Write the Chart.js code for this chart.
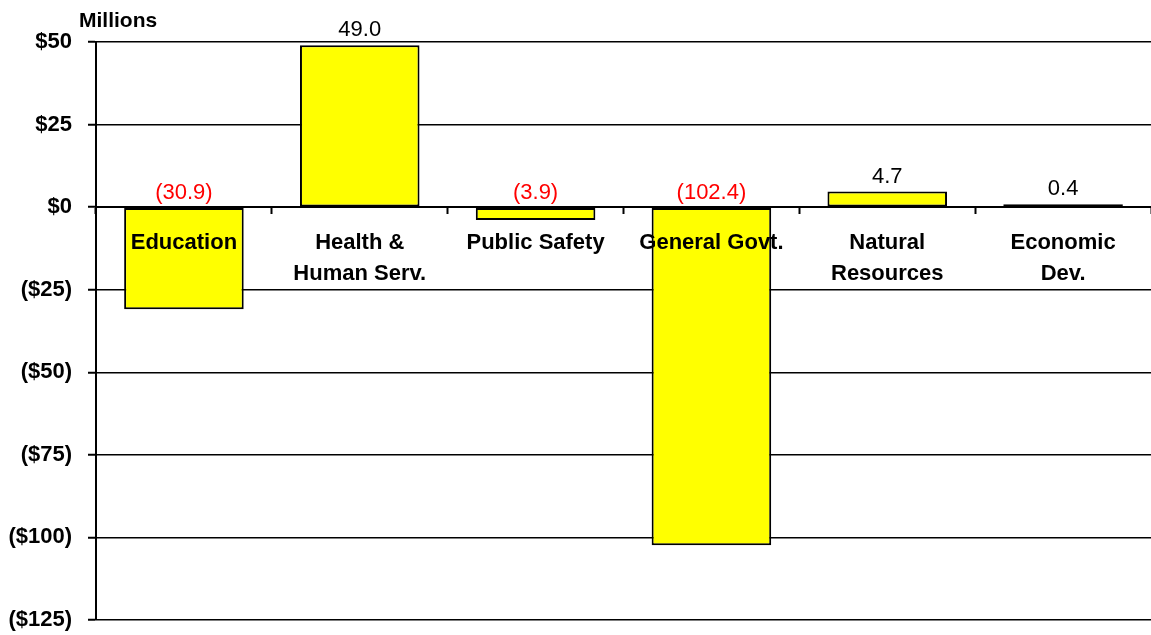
<!DOCTYPE html>
<html>
<head>
<meta charset="utf-8">
<script src="https://cdn.jsdelivr.net/npm/chart.js@4.4.0/dist/chart.umd.min.js"></script>
<style>
  html, body { margin: 0; padding: 0; background: #fff; }
  #wrap { width: 1151px; height: 635px; }
</style>
</head>
<body>
<div id="wrap"><canvas id="budgetChart"></canvas></div>
<script>
const categories = [
    "Education",
    ["Health &", "Human Serv."],
    "Public Safety",
    "General Govt.",
    ["Natural", "Resources"],
    ["Economic", "Dev."]
];
const changes = [-30.9, 49.0, -3.9, -102.4, 4.7, 0.4];  // $ millions
const yTicks = [50, 25, 0, -25, -50, -75, -100, -125];

const FONT = "'Liberation Sans', Arial, sans-serif";

function money(v) {
    return v < 0 ? "($" + Math.abs(v) + ")" : "$" + v;
}

// value labels above each bar, red in parentheses for cuts
const valueLabels = {
    id: "valueLabels",
    afterDatasetsDraw(chart) {
        const ctx = chart.ctx;
        const meta = chart.getDatasetMeta(0);
        ctx.save();
        ctx.font = "22px " + FONT;
        ctx.textAlign = "center";
        ctx.textBaseline = "alphabetic";
        meta.data.forEach((bar, i) => {
            const v = changes[i];
            const top = Math.min(bar.y, bar.base);
            ctx.fillStyle = v < 0 ? "#ff0000" : "#000000";
            const txt = v < 0 ? "(" + Math.abs(v).toFixed(1) + ")" : v.toFixed(1);
            ctx.fillText(txt, bar.x, top - 9);
        });
        ctx.restore();
    }
};

// "Millions" caption over the y axis
const unitsCaption = {
    id: "unitsCaption",
    afterDraw(chart) {
        const ctx = chart.ctx;
        ctx.save();
        ctx.font = "bold 21px " + FONT;
        ctx.fillStyle = "#000";
        ctx.textAlign = "left";
        ctx.textBaseline = "middle";
        ctx.fillText("Millions", 79, 21);
        ctx.restore();
    }
};

const ctx = document.getElementById("budgetChart").getContext("2d");
new Chart(ctx, {
    type: "bar",
    data: {
        labels: categories,
        datasets: [{
            data: changes,
            backgroundColor: "#ffff00",
            borderColor: "#000000",
            borderWidth: 2,
            borderSkipped: false,
            minBarLength: 3,
            barPercentage: 0.68,
            categoryPercentage: 1.0
        }]
    },
    options: {
        responsive: true,
        maintainAspectRatio: false,
        animation: false,
        layout: { padding: { top: 42, right: 0, bottom: 15, left: 0 } },
        plugins: {
            legend: { display: false },
            tooltip: { enabled: false }
        },
        scales: {
            x: {
                position: { y: 0 },
                grid: {
                    drawOnChartArea: false,
                    tickLength: 6,
                    tickWidth: 2,
                    color: "#000"
                },
                border: { color: "#000", width: 2, z: 1 },
                ticks: {
                    z: 2,
                    color: "#000",
                    padding: 15,
                    maxRotation: 0,
                    autoSkip: false,
                    font: { family: FONT, size: 22, weight: "bold", lineHeight: 1.38 }
                }
            },
            y: {
                min: -125,
                max: 50,
                afterFit(scale) {
                    scale.width = 96;
                    scale.paddingTop = 0;
                    scale.paddingBottom = 0;
                },
                afterBuildTicks(scale) {
                    scale.ticks = yTicks.map(v => ({ value: v }));
                },
                grid: {
                    color: "#000",
                    lineWidth: 1.5,
                    tickLength: 8,
                    tickWidth: 2
                },
                border: { color: "#000", width: 2 },
                ticks: {
                    color: "#000",
                    padding: 16,
                    font: { family: FONT, size: 22, weight: "bold" },
                    callback: v => money(v)
                }
            }
        }
    },
    plugins: [valueLabels, unitsCaption]
});
</script>
</body>
</html>
